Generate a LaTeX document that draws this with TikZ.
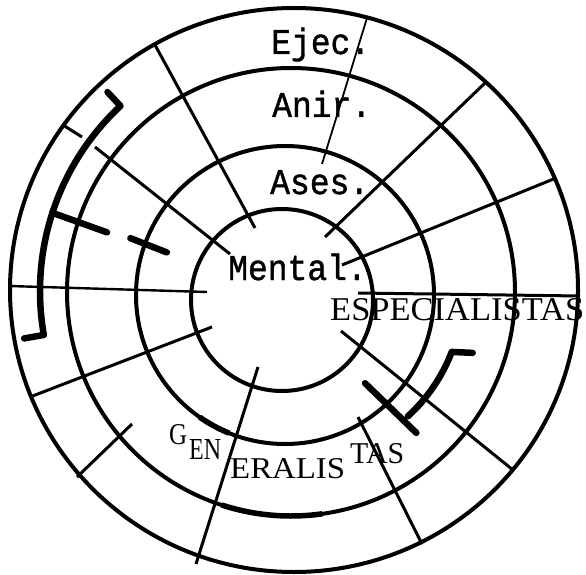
\documentclass[tikz,border=0pt]{standalone}
\usepackage{fontspec}
\setmainfont{Liberation Serif}
\newfontfamily\tw[FakeBold=1.2]{Liberation Mono}
\usetikzlibrary{calc}
\begin{document}
\begin{tikzpicture}[x=1pt,y=-1pt,line join=round,
  ring/.style={line width=4pt},
  heavyring/.style={line width=5.5pt},
  spoke/.style={line width=3pt},
  hairspoke/.style={line width=1.8pt},
  heavy/.style={line width=6.5pt,line cap=round},
  typed/.style={font=\tw\fontsize{33}{33}\selectfont,inner sep=0pt,anchor=base west},
  printed/.style={inner sep=0pt,anchor=base west}]
\fill[white] (0,0) rectangle (586,575);
\useasboundingbox (0,0) rectangle (586,575);
% centres
\coordinate (c1) at (294,290);
\coordinate (c2) at (291,292);
\coordinate (c3) at (285,295);
\coordinate (c4) at (282,300);
\coordinate (cb) at (293,291);
% texts
\node[typed] (ejec) at (271,54) {\scalebox{1}[1.1]{Ejec.}};
\node[typed] (anir) at (272,117) {\scalebox{1}[1.1]{Anir.}};
\node[typed] (ases) at (270,194) {\scalebox{1}[1.1]{Ases.}};
\node[typed] (mental) at (228,280) {\scalebox{1}[1.1]{Mental.}};
\node[printed] (espec) at (330,320) {\resizebox{254pt}{22pt}{ESPECIALISTAS}};
\node[printed] (gG) at (169,444) {\resizebox{18pt}{20pt}{G}};
\node[printed] (gEN) at (189,459) {\resizebox{32pt}{20pt}{EN}};
\node[printed] (gERALIS) at (230,478) {\resizebox{115pt}{20pt}{ERALIS}};
\node[printed] (gTAS) at (350,463) {\resizebox{54pt}{20pt}{TAS}};
% rings
\draw[ring] (c1) ellipse [x radius=284, y radius=282];
\draw[ring] (c2) circle [radius=224];
\draw[ring] (c3) circle [radius=149];
\draw[ring] (c4) circle [radius=91];
\draw[heavyring] ($(c3)+(125:149)$) arc[start angle=125, end angle=112, radius=149];
\draw[heavyring] ($(c2)+(108:224)$) arc[start angle=108, end angle=82, radius=224];
% spokes
\coordinate (s1a) at (155,45);  \coordinate (s1b) at (255,228);
\coordinate (s2a) at (367,18);  \coordinate (s2b) at (322,164);
\coordinate (s3a) at (485,83);  \coordinate (s3b) at (325,237);
\coordinate (s4a) at (556,178); \coordinate (s4b) at (342,265);
\coordinate (s5a) at (9,286);   \coordinate (s5b) at (207,292);
\coordinate (s6a) at (358,293); \coordinate (s6b) at (580,296);
\coordinate (s7a) at (63,125);  \coordinate (s7b) at (82,137);
\coordinate (s7c) at (95,147);  \coordinate (s7d) at (230,254);
\coordinate (s8a) at (341,331); \coordinate (s8b) at (513,470);
\coordinate (s9a) at (358,417); \coordinate (s9b) at (422,544);
\coordinate (s10a) at (258,367); \coordinate (s10b) at (196,564);
\coordinate (s11a) at (30,397); \coordinate (s11b) at (212,327);
\coordinate (s12a) at (77,477); \coordinate (s12b) at (132,424);
\draw[spoke] (s1a) -- (s1b);
\draw[hairspoke] (s2a) -- (s2b);
\draw[spoke] (s3a) -- (s3b);
\draw[spoke] (s4a) -- (s4b);
\draw[line width=2.4pt] (s5a) -- (s5b);
\draw[spoke] (s6a) -- (s6b);
\draw[spoke] (s7a) -- (s7b);
\draw[spoke] (s7c) -- (s7d);
\draw[spoke] (s8a) -- (s8b);
\draw[spoke] (s9a) -- (s9b);
\draw[spoke] (s10a) -- (s10b);
\draw[spoke] (s11a) -- (s11b);
\draw[spoke] (s12a) -- (s12b);
% heavy brackets (left)
\begin{scope}[shift={(cb)}]
\draw[heavy] (-133:272) -- (-133:253) arc[start angle=-133, end angle=-190, radius=253] -- (-190:273);
\draw[heavy] (-162:253) -- (-162.5:195);
\draw[heavy] (-162:171) -- (-163:132);
% heavy bracket (right)
\draw[heavy] (52:117) -- (49:188);
\draw[heavy] (47.5:170) arc[start angle=47.5, end angle=21, radius=170] -- (19:190);
\end{scope}
\end{tikzpicture}
\end{document}
